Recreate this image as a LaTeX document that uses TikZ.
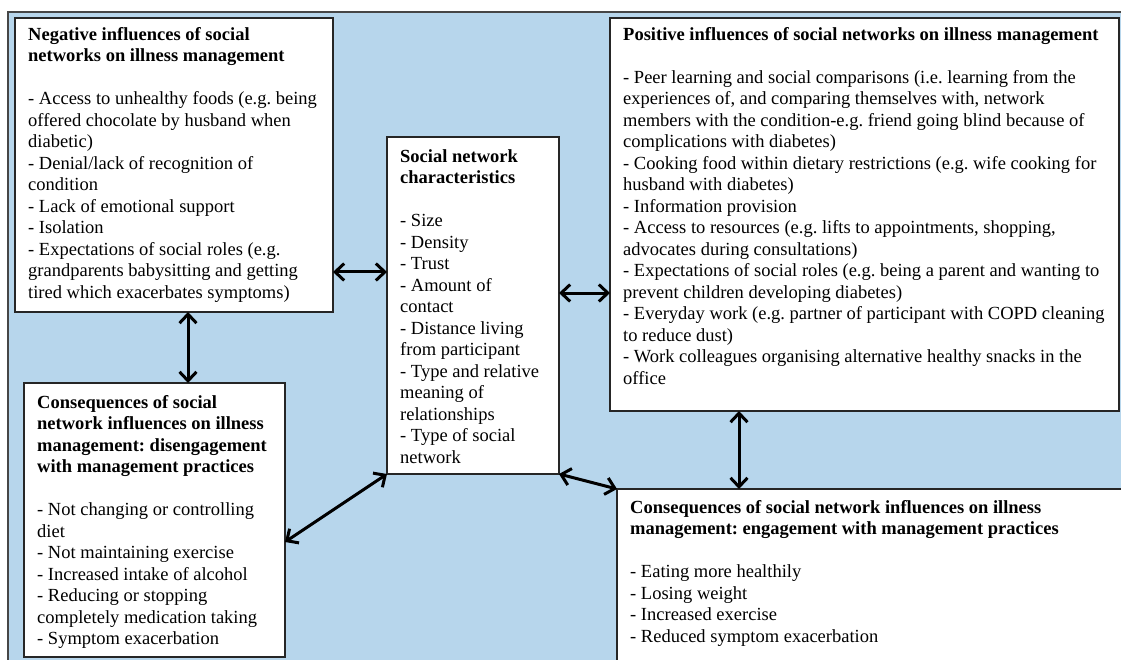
\documentclass[tikz,border=0pt]{standalone}
\usepackage{fontspec}
\setmainfont{Liberation Serif}
\usetikzlibrary{arrows.meta}
\definecolor{bgblue}{RGB}{183,214,236}
\definecolor{bordergray}{RGB}{70,70,70}
\frenchspacing
\begin{document}
\begin{tikzpicture}[x=1pt,y=-1pt,
  box/.style={draw=black!85, line width=1.2pt, fill=white, rectangle, anchor=north west, inner sep=0pt, outer sep=0pt},
  txt/.style={anchor=north west, inner sep=0pt, align=left, font=\fontsize{18.5}{21.5}\selectfont},
  conn/.style={line width=3pt, {Straight Barb[length=9pt,width=17pt,line width=3pt]}-{Straight Barb[length=9pt,width=17pt,line width=3pt]}}
]
\useasboundingbox (0,0) rectangle (1121,660);
\clip (0,0) rectangle (1121,660);
\draw[fill=bgblue, draw=bordergray, line width=1.5pt] (8,12) rectangle (1135,675);

% boxes
\node[box, minimum width=318pt, minimum height=294pt] (neg) at (15,18) {};
\node[box, minimum width=509pt, minimum height=393pt] (pos) at (610,18) {};
\node[box, minimum width=172pt, minimum height=337pt] (soc) at (387,137) {};
\node[box, minimum width=261pt, minimum height=274pt] (dis) at (24,383) {};
\node[box, minimum width=530pt, minimum height=210pt] (eng) at (617,489) {};

% texts
\node[txt] (negt) at (28,25) {\strut\textbf{Negative influences of social}\\
\textbf{networks on illness management}\\
\strut\\
- Access to unhealthy foods (e.g. being\\
offered chocolate by husband when\\
diabetic)\\
- Denial/lack of recognition of\\
condition\\
- Lack of emotional support\\
- Isolation\\
- Expectations of social roles (e.g.\\
grandparents babysitting and getting\\
tired which exacerbates symptoms)};

\node[txt] (post) at (623,25) {\strut\textbf{Positive influences of social networks on illness management}\\
\strut\\
- Peer learning and social comparisons (i.e. learning from the\\
experiences of, and comparing themselves with, network\\
members with the condition-e.g. friend going blind because of\\
complications with diabetes)\\
- Cooking food within dietary restrictions (e.g. wife cooking for\\
husband with diabetes)\\
- Information provision\\
- Access to resources (e.g. lifts to appointments, shopping,\\
advocates during consultations)\\
- Expectations of social roles (e.g. being a parent and wanting to\\
prevent children developing diabetes)\\
- Everyday work (e.g. partner of participant with COPD cleaning\\
to reduce dust)\\
- Work colleagues organising alternative healthy snacks in the\\
office};

\node[txt] (soct) at (400,147) {\strut\textbf{Social network}\\
\textbf{characteristics}\\
\strut\\
- Size\\
- Density\\
- Trust\\
- Amount of\\
contact\\
- Distance living\\
from participant\\
- Type and relative\\
meaning of\\
relationships\\
- Type of social\\
network};

\node[txt] (dist) at (37,393) {\strut\textbf{Consequences of social}\\
\textbf{network influences on illness}\\
\textbf{management: disengagement}\\
\textbf{with management practices}\\
\strut\\
- Not changing or controlling\\
diet\\
- Not maintaining exercise\\
- Increased intake of alcohol\\
- Reducing or stopping\\
completely medication taking\\
- Symptom exacerbation};

\node[txt] (engt) at (630,498) {\strut\textbf{Consequences of social network influences on illness}\\
\textbf{management: engagement with management practices}\\
\strut\\
- Eating more healthily\\
- Losing weight\\
- Increased exercise\\
- Reduced symptom exacerbation};

% connectors
\draw[conn] ([yshift=-254pt]neg.north east) -- ([yshift=-135pt]soc.north west);
\draw[conn] ([yshift=-156pt]soc.north east) -- ([yshift=-275pt]pos.north west);
\draw[conn] ([xshift=173pt]neg.south west) -- ([xshift=164pt]dis.north west);
\draw[conn] (soc.south west) -- ([yshift=-159pt]dis.north east);
\draw[conn] (soc.south east) -- (eng.north west);
\draw[conn] ([xshift=129pt]pos.south west) -- ([xshift=122pt]eng.north west);
\end{tikzpicture}
\end{document}
